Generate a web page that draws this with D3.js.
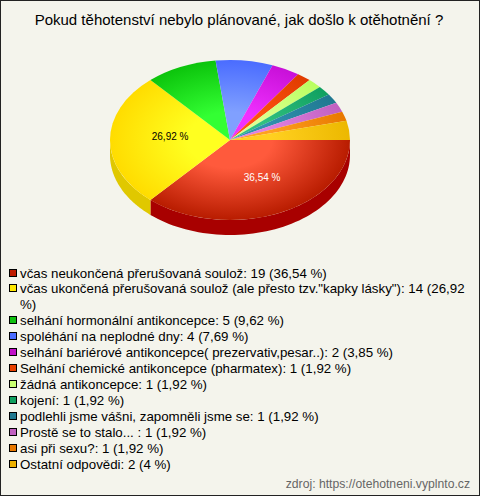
<!DOCTYPE html>
<html><head><meta charset="utf-8">
<script src="https://cdn.jsdelivr.net/npm/d3@7"></script>
<style>html,body{margin:0;padding:0;background:#f4f4ec}svg{display:block}</style>
</head><body><svg id="c" width="480" height="496"></svg>
<script>
const title = "Pokud těhotenství nebylo plánované, jak došlo k otěhotnění ?";
const source = "zdroj: https://otehotneni.vyplnto.cz";
const categories = ["včas neukončená přerušovaná soulož","včas ukončená přerušovaná soulož (ale přesto tzv.\"kapky lásky\")","selhání hormonální antikoncepce","spoléhání na neplodné dny","selhání bariérové antikoncepce( prezervativ,pesar..)","Selhání chemické antikoncepce (pharmatex)","žádná antikoncepce","kojení","podlehli jsme vášni, zapomněli jsme se","Prostě se to stalo... ","asi při sexu?","Ostatní odpovědi"];
const counts = [19,14,5,4,2,1,1,1,1,1,1,2];
const percents = ["36,54","26,92","9,62","7,69","3,85","1,92","1,92","1,92","1,92","1,92","1,92","4"];
const colorsEdge = ["#b81c00","#ffdc00","#0cc40c","#4a6cff","#c810d8","#e03c00","#b8ff60","#10a060","#207890","#c060c0","#e87800","#ecb800"];
const colorsMid = ["#ff5a3c","#ffff20","#33ff33","#80a0ff","#f030ff","#ff5010","#ddff90","#30c080","#3090b0","#e080e0","#ffa020","#ffd020"];
const colorsSide = ["#a80000","#e0c800","#0aa00a","#3a58d0","#a00cb0","#b83000","#98d050","#0c8050","#186078","#a050a0","#c06000","#d0a000"];
const colorsKey = ["#c01c00","#ffe800","#10c010","#4a6cff","#c010c8","#e84000","#c8ff70","#10a060","#207890","#c060c0","#e87800","#ecb000"];
const swatchBorder = "#000";

const W=480,H=496,cx=230,cy=140,rx=120,ry=80,depth=15;
const svg=d3.select("#c");
svg.append("rect").attr("width",W).attr("height",H).attr("fill","#f4f4ec");
svg.append("rect").attr("x",.5).attr("y",.5).attr("width",W-1).attr("height",H-1).attr("fill","none").attr("stroke","#222");
svg.append("text").attr("x",239).attr("y",25).attr("text-anchor","middle")
  .attr("font-family","Liberation Sans").attr("font-size",15).attr("fill","#000").text(title);

const pie=d3.pie().sort(null).startAngle(Math.PI/2).endAngle(Math.PI/2+2*Math.PI);
const arcs=pie(counts);
const defs=svg.append("defs");
arcs.forEach((d,i)=>{
  const g=defs.append("radialGradient").attr("id","g"+i).attr("gradientUnits","userSpaceOnUse")
    .attr("cx",0).attr("cy",0).attr("r",rx);
  g.append("stop").attr("offset",0).attr("stop-color",colorsMid[i]);
  g.append("stop").attr("offset",.35).attr("stop-color",colorsMid[i]);
  g.append("stop").attr("offset",1).attr("stop-color",colorsEdge[i]);
});
const px=a=>cx+rx*Math.sin(a), py=a=>cy-ry*Math.cos(a);
const sideG=svg.append("g");
arcs.forEach((d,i)=>{
  const a0=Math.max(d.startAngle,Math.PI/2), a1=Math.min(d.endAngle,3*Math.PI/2);
  if(a1<=a0) return;
  const ts=d3.range(0,61).map(k=>a0+(a1-a0)*k/60);
  const pts=ts.map(a=>[px(a),py(a)]).concat(ts.slice().reverse().map(a=>[px(a),py(a)+depth]));
  sideG.append("path").attr("d",d3.line()(pts)+"Z").attr("fill",colorsSide[i]);
});
const arcGen=d3.arc().innerRadius(0).outerRadius(rx);
const topFace=svg.append("g").attr("transform",`translate(${cx},${cy}) scale(1,${ry/rx})`);
topFace.selectAll("path").data(arcs).join("path").attr("d",arcGen)
  .attr("fill",(d,i)=>`url(#g${i})`);

const labelColors=["#fff","#000"];
const labelDx=[6.5,2.5], labelDy=[0,-4];
arcs.slice(0,2).forEach((d,i)=>{
  const a=(d.startAngle+d.endAngle)/2, k=.52;
  svg.append("text").attr("x",cx+rx*k*Math.sin(a)+labelDx[i]).attr("y",cy-ry*k*Math.cos(a)+3.5+labelDy[i])
    .attr("text-anchor","middle").attr("font-family","Liberation Sans").attr("font-size",10)
    .attr("fill",labelColors[i]).text(percents[i]+" %");
});

const lines=categories.map((c,i)=>`${c}: ${counts[i]} (${percents[i]} %)`);
const rowY=[273,288,320,336,352,368,384,400,416,432,448,464];
const leg=svg.append("g");
lines.forEach((t,i)=>{
  leg.append("rect").attr("x",9.5).attr("y",rowY[i]-3.5).attr("width",7).attr("height",7)
    .attr("fill",colorsKey[i]).attr("stroke",swatchBorder);
  const el=leg.append("text").attr("x",20).attr("y",rowY[i]+5)
    .attr("font-family","Liberation Sans").attr("font-size",13.3).attr("fill","#000");
  if(i===1){
    const cut=t.lastIndexOf(" ");
    el.text(t.slice(0,cut));
    leg.append("text").attr("x",20).attr("y",rowY[i]+21).attr("font-family","Liberation Sans")
      .attr("font-size",13.3).attr("fill","#000").text(t.slice(cut+1));
  } else el.text(t);
});
svg.append("text").attr("x",470).attr("y",488).attr("text-anchor","end")
  .attr("font-family","Liberation Sans").attr("font-size",12.2).attr("fill","#666").text(source);
</script></body></html>
